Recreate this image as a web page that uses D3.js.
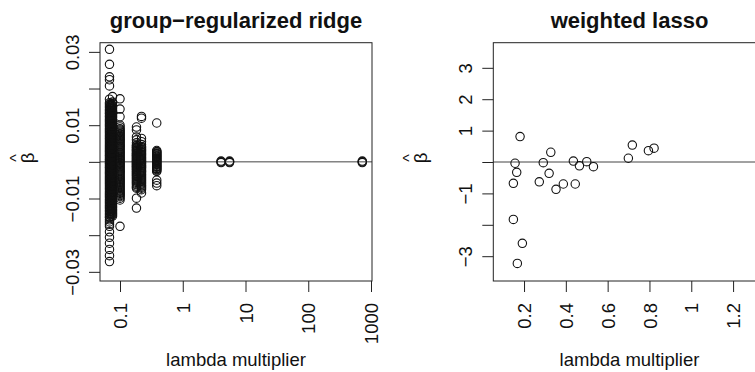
<!DOCTYPE html>
<html><head><meta charset="utf-8">
<script src="https://cdn.jsdelivr.net/npm/d3@7"></script>
<style>html,body{margin:0;padding:0;background:#fff;} svg{display:block;}</style>
</head><body>
<svg id="chart" width="755" height="372"></svg>
<script>
// ---------- data: group-regularized ridge ----------
const ridgeLambdas = [0.068, 0.072, 0.076, 0.1, 0.183, 0.22, 0.385, 4.08, 5.57, 726];
const ridgeBetaA1 = [0.0307, 0.0266, 0.0232, 0.0224, 0.0207, 0.0171,
  0.0161, 0.0157, 0.0152, 0.0148, 0.0143, 0.0139, 0.0134, 0.0131, 0.0126, 0.0122, 0.0117, 0.0113,
  0.0109, 0.0104, 0.0100, 0.0096, 0.0091, 0.0087, 0.0083, 0.0079, 0.0074, 0.0070, 0.0066, 0.0062,
  0.0058, 0.0054, 0.0050, 0.0046, 0.0042, 0.0038, 0.0034, 0.0030, 0.0027, 0.0023, 0.0019, 0.0016,
  0.0012, 0.0008, 0.0005, 0.0001, -0.0003, -0.0006, -0.0010, -0.0014, -0.0017, -0.0021, -0.0025,
  -0.0029, -0.0032, -0.0036, -0.0040, -0.0044, -0.0048, -0.0052, -0.0056, -0.0060, -0.0064, -0.0068,
  -0.0072, -0.0076, -0.0081, -0.0085, -0.0089, -0.0093, -0.0097, -0.0102, -0.0106, -0.0110, -0.0114,
  -0.0119, -0.0123, -0.0127, -0.0132, -0.0136, -0.0141, -0.0145, -0.0150, -0.0152,
  -0.0158, -0.0164, -0.0170, -0.0176, -0.0191, -0.0206, -0.0222, -0.0239, -0.0256, -0.0272];
const ridgeBetaA3 = [0.0158, 0.0154, 0.0149, 0.0145, 0.0140, 0.0136, 0.0131, 0.0127, 0.0122, 0.0118,
  0.0114, 0.0109, 0.0105, 0.0101, 0.0097, 0.0092, 0.0088, 0.0084, 0.0080, 0.0075, 0.0071, 0.0067,
  0.0063, 0.0059, 0.0055, 0.0051, 0.0047, 0.0043, 0.0039, 0.0035, 0.0031, 0.0028, 0.0024, 0.0020,
  0.0017, 0.0013, 0.0009, 0.0006, 0.0002, -0.0002, -0.0005, -0.0009, -0.0013, -0.0016, -0.0020,
  -0.0024, -0.0028, -0.0031, -0.0035, -0.0039, -0.0043, -0.0047, -0.0051, -0.0055, -0.0059,
  -0.0063, -0.0067, -0.0071, -0.0075, -0.0079, -0.0084, -0.0088, -0.0092, -0.0096, -0.0100,
  -0.0105, -0.0109, -0.0113, -0.0117, -0.0122, -0.0126, -0.0131, -0.0135, -0.0140, -0.0144, -0.0149];
const ridgeBetaA2 = [0.0178, 0.0163, 0.0159, 0.0154, 0.0150, 0.0146, 0.0141, 0.0137, 0.0132, 0.0128,
  0.0124, 0.0120, 0.0115, 0.0111, 0.0106, 0.0102, 0.0098, 0.0094, 0.0089, 0.0085, 0.0081, 0.0077,
  0.0072, 0.0068, 0.0064, 0.0060, 0.0056, 0.0052, 0.0048, 0.0044, 0.0040, 0.0036, 0.0032, 0.0029,
  0.0025, 0.0021, 0.0018, 0.0014, 0.0010, 0.0007, 0.0003, -0.0001, -0.0004, -0.0008, -0.0012,
  -0.0015, -0.0019, -0.0023, -0.0027, -0.0030, -0.0034, -0.0038, -0.0042, -0.0046, -0.0050,
  -0.0054, -0.0058, -0.0062, -0.0066, -0.0070, -0.0074, -0.0078, -0.0083, -0.0087, -0.0091,
  -0.0095, -0.0099, -0.0104, -0.0108, -0.0112, -0.0116, -0.0121, -0.0125, -0.0130, -0.0134,
  -0.0139, -0.0143, -0.0148];
const ridgeBetaB = [0.0172, 0.0144, 0.0123, 0.0100, 0.0095, 0.0090, 0.0087, 0.0084, 0.0081, 0.0078,
  0.0075, 0.0072, 0.0069, 0.0066, 0.0063, 0.0061, 0.0058, 0.0055, 0.0052, 0.0049, 0.0046, 0.0043,
  0.0041, 0.0038, 0.0035, 0.0032, 0.0029, 0.0026, 0.0024, 0.0021, 0.0018, 0.0015, 0.0012, 0.0009,
  0.0007, 0.0004, 0.0001, -0.0002, -0.0004, -0.0007, -0.0010, -0.0013, -0.0016, -0.0019, -0.0022,
  -0.0025, -0.0027, -0.0030, -0.0033, -0.0036, -0.0039, -0.0042, -0.0045, -0.0048, -0.0050,
  -0.0053, -0.0056, -0.0059, -0.0062, -0.0065, -0.0068, -0.0071, -0.0074, -0.0077, -0.0080,
  -0.0083, -0.0086, -0.0089, -0.0092, -0.0095, -0.0099, -0.0104, -0.0176];
const ridgeBetaC1 = [0.0095, 0.0087, 0.0068, 0.0060, 0.0052, 0.0046, 0.0044, 0.0041, 0.0039, 0.0037,
  0.0034, 0.0032, 0.0030, 0.0028, 0.0025, 0.0023, 0.0021, 0.0019, 0.0017, 0.0015, 0.0013, 0.0011,
  0.0009, 0.0007, 0.0005, 0.0003, 0.0001, -0.0001, -0.0003, -0.0005, -0.0007, -0.0009, -0.0011,
  -0.0013, -0.0015, -0.0017, -0.0019, -0.0021, -0.0023, -0.0026, -0.0028, -0.0031, -0.0033,
  -0.0036, -0.0038, -0.0041, -0.0044, -0.0047, -0.0050, -0.0053, -0.0056, -0.0059, -0.0062,
  -0.0066, -0.0069, -0.0072, -0.0099, -0.0126];
const ridgeBetaC2 = [0.0124, 0.0119, 0.0064, 0.0055, 0.0047, 0.0042, 0.0039, 0.0036, 0.0033, 0.0031,
  0.0028, 0.0025, 0.0022, 0.0020, 0.0017, 0.0014, 0.0011, 0.0009, 0.0006, 0.0004, 0.0001, -0.0001,
  -0.0004, -0.0006, -0.0009, -0.0011, -0.0014, -0.0016, -0.0019, -0.0022, -0.0025, -0.0027,
  -0.0030, -0.0033, -0.0036, -0.0039, -0.0042, -0.0045, -0.0048, -0.0051, -0.0054, -0.0057,
  -0.0060, -0.0063, -0.0066, -0.0069, -0.0072, -0.0076, -0.0085];
const ridgeBetaD = [0.0106, 0.0031, 0.0028, 0.0027, 0.0024, 0.0022, 0.0021, 0.0018, 0.0016, 0.0015,
  0.0012, 0.0010, 0.0009, 0.0006, 0.0004, 0.0003, 0.0000, -0.0001, -0.0003, -0.0006, -0.0007,
  -0.0009, -0.0012, -0.0013, -0.0015, -0.0018, -0.0019, -0.0021, -0.0024, -0.0026,
  -0.0050, -0.0058, -0.0065];
const ridgeBetaE1 = [0.0002, 0.0000, -0.0002];
const ridgeBetaE2 = [0.0002, 0.0000, -0.0002];
const ridgeBetaF = [0.0002, 0.0000, -0.0002];
const ridgeBetas = [ridgeBetaA1, ridgeBetaA3, ridgeBetaA2, ridgeBetaB, ridgeBetaC1, ridgeBetaC2,
  ridgeBetaD, ridgeBetaE1, ridgeBetaE2, ridgeBetaF];

const ridgeXTicks = [0.1, 1, 10, 100, 1000];
const ridgeXLabels = ["0.1", "1", "10", "100", "1000"];
const ridgeYTicks = [-0.03, -0.02, -0.01, 0, 0.01, 0.02, 0.03];
const ridgeYLabels = ["\u22120.03", "", "\u22120.01", "", "0.01", "", "0.03"];

// ---------- data: weighted lasso ----------
const lassoLambda = [0.181, 0.157, 0.165, 0.149, 0.149, 0.192, 0.168, 0.273, 0.292, 0.320, 0.328,
  0.353, 0.388, 0.445, 0.436, 0.465, 0.500, 0.532, 0.699, 0.718, 0.795, 0.822];
const lassoBeta = [0.81, -0.04, -0.33, -0.68, -1.83, -2.59, -3.23, -0.63, -0.02, -0.36, 0.31,
  -0.87, -0.70, -0.70, 0.03, -0.12, 0.01, -0.15, 0.12, 0.54, 0.36, 0.44];

const lassoXTicks = [0.2, 0.4, 0.6, 0.8, 1, 1.2];
const lassoXLabels = ["0.2", "0.4", "0.6", "0.8", "1", "1.2"];
const lassoYTicks = [-3, -2, -1, 0, 1, 2, 3];
const lassoYLabels = ["\u22123", "", "\u22121", "", "1", "2", "3"];

// ---------- drawing ----------
const FONT = "'Liberation Sans', Arial, Helvetica, sans-serif";
const svg = d3.select("#chart");
const plotTop = 42.7, plotBottom = 281;

function panel(opts) {
  const {x, y, left, right, title, xTicks, xLabels, yTicks, yLabels, points} = opts;
  const g = svg.append("g");
  const cx = (left + right) / 2;

  g.append("text").attr("x", cx).attr("y", 28).attr("text-anchor", "middle")
    .attr("font-family", FONT).attr("font-size", 22).attr("font-weight", "bold")
    .attr("fill", "#111").text(title);

  g.append("line").attr("x1", left).attr("x2", right).attr("y1", y(0)).attr("y2", y(0))
    .attr("stroke", "#444").attr("stroke-width", 1);

  g.append("g").selectAll("circle").data(points).join("circle")
    .attr("cx", d => x(d[0])).attr("cy", d => y(d[1])).attr("r", 4.2)
    .attr("fill", "none").attr("stroke", "#111").attr("stroke-width", 1.1);

  g.append("rect").attr("x", left).attr("y", plotTop).attr("width", right - left)
    .attr("height", plotBottom - plotTop).attr("fill", "none").attr("stroke", "#222").attr("stroke-width", 1);

  const xa = g.append("g").attr("transform", `translate(0,${plotBottom})`)
    .call(d3.axisBottom(x).tickValues(xTicks).tickSize(11)
      .tickFormat((d, i) => xLabels[i]));
  xa.select(".domain").remove();
  xa.selectAll("line").attr("stroke", "#222");
  xa.selectAll("text").attr("transform", "rotate(-90)").attr("x", -22).attr("y", 0)
    .attr("dy", "0.36em").attr("text-anchor", "end")
    .attr("font-family", FONT).attr("font-size", 18.5).attr("fill", "#111");

  const ya = g.append("g").attr("transform", `translate(${left},0)`)
    .call(d3.axisLeft(y).tickValues(yTicks).tickSize(11)
      .tickFormat((d, i) => yLabels[i]));
  ya.select(".domain").remove();
  ya.selectAll("line").attr("stroke", "#222");
  ya.selectAll("text").attr("transform", "rotate(-90)").attr("x", 0).attr("y", -21)
    .attr("dy", 0).attr("text-anchor", "middle")
    .attr("font-family", FONT).attr("font-size", 18.5).attr("fill", "#111");

  g.append("text").attr("x", cx).attr("y", 366).attr("text-anchor", "middle")
    .attr("font-family", FONT).attr("font-size", 18.5).attr("fill", "#111")
    .text("lambda multiplier");

  const yl = g.append("g").attr("transform", `translate(${left - 66.5},158) rotate(-90)`);
  yl.append("text").attr("x", 0).attr("y", 0).attr("text-anchor", "middle")
    .attr("font-family", FONT).attr("font-size", 18.5).attr("fill", "#111").text("\u03B2");
  yl.append("text").attr("x", 0).attr("y", -12).attr("text-anchor", "middle")
    .attr("font-family", FONT).attr("font-size", 16).attr("fill", "#111").text("^");
}

const lLeft = 100, lRight = 372;
const xRidge = d3.scaleLog().domain([0.048, 1037]).range([lLeft, lRight]);
const yRidge = d3.scaleLinear().domain([-0.0325, 0.0325]).range([plotBottom, plotTop]);
const ridgePoints = [];
ridgeLambdas.forEach((lam, i) => ridgeBetas[i].forEach(b => ridgePoints.push([lam, b])));
panel({x: xRidge, y: yRidge, left: lLeft, right: lRight, title: "group\u2212regularized ridge",
  xTicks: ridgeXTicks, xLabels: ridgeXLabels, yTicks: ridgeYTicks, yLabels: ridgeYLabels,
  points: ridgePoints});

const rLeft = 493.3, rRight = 765.7;
const xLasso = d3.scaleLinear().domain([0.053, 1.356]).range([rLeft, rRight]);
const yLasso = d3.scaleLinear().domain([-3.79, 3.8]).range([plotBottom, plotTop]);
panel({x: xLasso, y: yLasso, left: rLeft, right: rRight, title: "weighted lasso",
  xTicks: lassoXTicks, xLabels: lassoXLabels, yTicks: lassoYTicks, yLabels: lassoYLabels,
  points: lassoLambda.map((l, i) => [l, lassoBeta[i]])});
</script>
</body></html>
